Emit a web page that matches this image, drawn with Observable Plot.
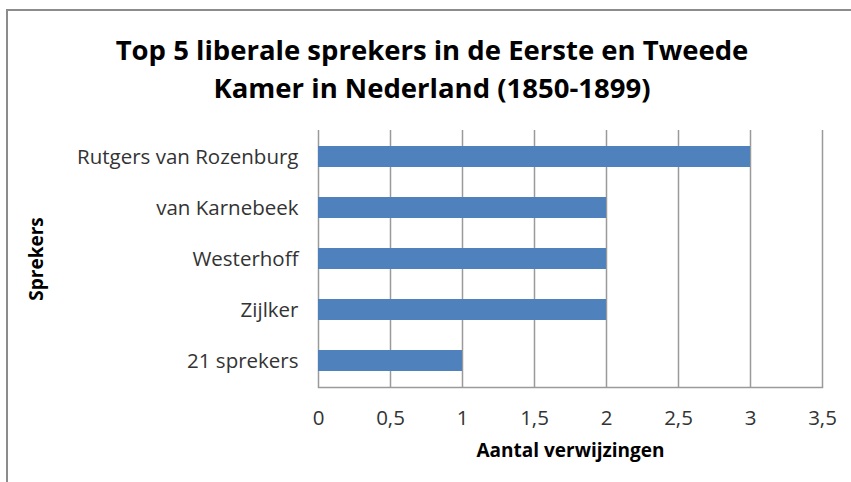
<!DOCTYPE html>
<html>
<head>
<meta charset="utf-8">
<script src="https://cdn.jsdelivr.net/npm/d3@7"></script>
<script src="https://cdn.jsdelivr.net/npm/@observablehq/plot@0.6"></script>
<style>
  html, body { margin: 0; padding: 0; background: #fff; }
  #wrap { position: relative; width: 851px; height: 482px; overflow: hidden; font-family: "Open Sans", sans-serif; }
  #border { position: absolute; left: 6px; top: 9px; width: 900px; height: 600px; border-left: 2px solid #8c8c8c; border-top: 2px solid #8c8c8c; box-sizing: border-box; }
  #title { position: absolute; left: 0; width: 864px; top: 31px; text-align: center; font-weight: bold; font-size: 27.5px; line-height: 38px; color: #000; }
  #plot { position: absolute; left: 0; top: 0; }
</style>
</head>
<body>
<div id="wrap">
  <div id="border"></div>
  <div id="title">Top 5 liberale sprekers in de Eerste en Tweede<br>Kamer in Nederland (1850-1899)</div>
  <div id="plot"></div>
</div>
<script>
const speakers = ["Rutgers van Rozenburg", "van Karnebeek", "Westerhoff", "Zijlker", "21 sprekers"];
const counts = [3, 2, 2, 2, 1];
const xTicks = [0, 0.5, 1, 1.5, 2, 2.5, 3, 3.5];
const xLabel = "Aantal verwijzingen";
const yLabel = "Sprekers";

const data = speakers.map((s, i) => ({speaker: s, count: counts[i]}));
const fmt = d => String(d).replace(".", ",");

const chart = Plot.plot({
  width: 851,
  height: 482,
  marginLeft: 318,
  marginRight: 29,
  marginTop: 130,
  marginBottom: 95,
  style: {fontFamily: "'Open Sans', sans-serif", fontSize: "20.5px", color: "#333", background: "transparent"},
  x: {domain: [0, 3.5], ticks: xTicks},
  y: {domain: speakers, paddingInner: 0.59, paddingOuter: 0.295, label: null},
  marks: [
    Plot.gridX(xTicks, {stroke: "#9a9a9a", strokeOpacity: 1, strokeWidth: 1.5}),
    Plot.frame({anchor: "bottom", stroke: "#9a9a9a", strokeWidth: 1.5}),
    Plot.barX(data, {y: "speaker", x: "count", fill: "#4f81bd"}),
    Plot.axisX(xTicks, {tickSize: 0, tickPadding: 23, tickFormat: fmt, label: null, fontSize: 20.5}),
    Plot.axisY({tickSize: 0, tickPadding: 20, label: null, fontSize: 20.5}),
    Plot.text([xLabel], {frameAnchor: "bottom", dy: 69, fontWeight: "bold", fontSize: 19, fill: "#000"}),
    Plot.text([yLabel], {frameAnchor: "left", textAnchor: "middle", dx: -282, rotate: -90, fontWeight: "bold", fontSize: 19, fill: "#000"})
  ]
});
document.getElementById("plot").appendChild(chart);
</script>
</body>
</html>
